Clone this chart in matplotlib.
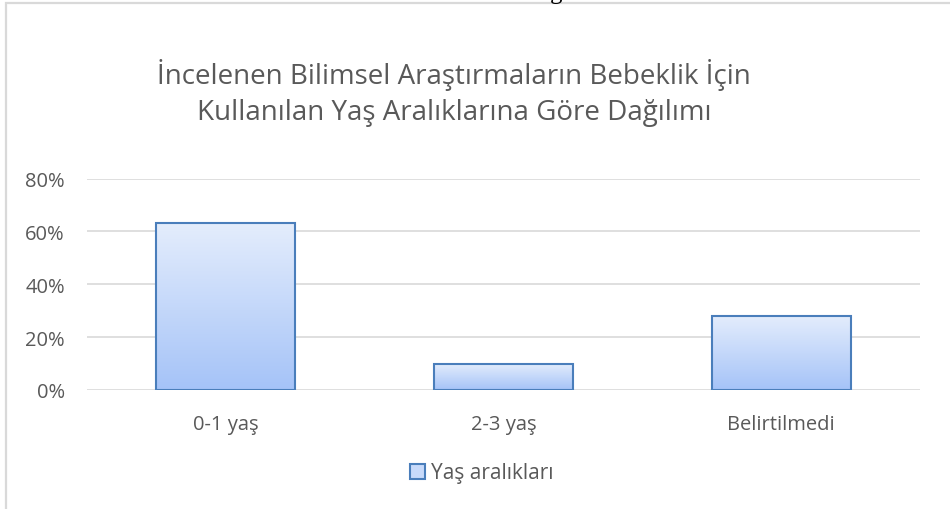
import matplotlib
matplotlib.use("Agg")
import matplotlib.pyplot as plt
import numpy as np
from matplotlib.patches import Rectangle, Patch
from matplotlib.colors import LinearSegmentedColormap
from matplotlib.ticker import PercentFormatter

categories = ["0-1 yaş", "2-3 yaş", "Belirtilmedi"]
values = [0.63, 0.10, 0.28]
series_name = "Yaş aralıkları"
title = "İncelenen Bilimsel Araştırmaların Bebeklik İçin\nKullanılan Yaş Aralıklarına Göre Dağılımı"
yticks = [0, 0.2, 0.4, 0.6, 0.8]

plt.rcParams['font.family'] = ['Open Sans', 'DejaVu Sans']
gray = "#595959"

fig = plt.figure(figsize=(9.5, 5.1), dpi=100)
ax = fig.add_axes([87/950, 1-391/510, 833/950, (391-179.5)/510])

x = np.arange(len(categories))
bars = ax.bar(x, values, width=0.5, facecolor="none", edgecolor="#4A7EBB", linewidth=1.5, zorder=3)

cmap = LinearSegmentedColormap.from_list("g", ["#A5C3F8", "#E4EDFC"])
grad = np.linspace(0, 1, 256).reshape(-1, 1)
for b in bars:
    x0, y0 = b.get_x(), b.get_y()
    w, h = b.get_width(), b.get_height()
    im = ax.imshow(grad, cmap=cmap, origin="lower", aspect="auto",
                   extent=[x0, x0 + w, y0, y0 + h], zorder=2)
    im.set_clip_path(b)

ax.set_xlim(-0.5, len(categories) - 0.5)
ax.set_ylim(0, 0.8)
ax.set_yticks(yticks)
ax.yaxis.set_major_formatter(PercentFormatter(1.0, decimals=0))
ax.set_xticks(x)
ax.set_xticklabels(categories)
ax.tick_params(axis='both', length=0, colors=gray, labelsize=14.5)
ax.tick_params(axis='x', pad=17)
ax.tick_params(axis='y', pad=16)
ax.grid(axis='y', color="#D9D9D9", linewidth=1.2, zorder=0)
for s in ax.spines.values():
    s.set_visible(False)

fig.text(454/950, 1-93/510, title, ha='center', va='center', fontsize=20,
         color=gray, linespacing=1.37)

handle = Patch(facecolor="#C8DAFA", edgecolor="#4A7EBB", linewidth=1.5)
fig.legend([handle], [series_name], loc='center', bbox_to_anchor=(482/950, 1-474/510),
           frameon=False, fontsize=15, labelcolor=gray, handlelength=0.7,
           handleheight=0.7, handletextpad=0.3)

fig.patches.append(Rectangle((5.5/950, -0.1), 1.2, 1.1 - 3.5/510 + 0.0,
                             transform=fig.transFigure, fill=False,
                             edgecolor="#D9D9D9", linewidth=1.6))
fig.text(556/950, 1 + 1.0/510, "g", ha='center', va='baseline', fontsize=18,
         family='Liberation Serif', color='black')

fig.savefig("out.png", dpi=100)
